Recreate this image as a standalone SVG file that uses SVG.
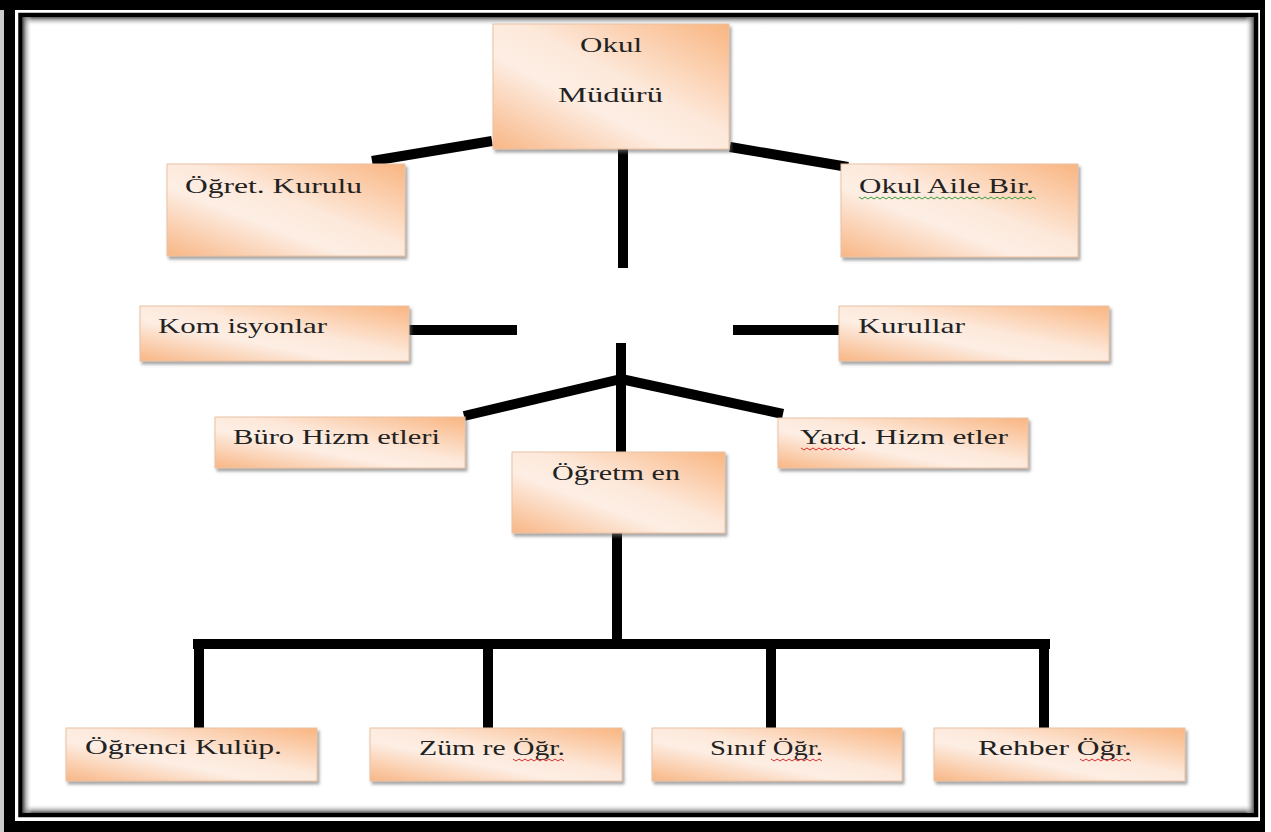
<svg xmlns="http://www.w3.org/2000/svg" width="1271" height="832" viewBox="0 0 1271 832">
  <defs>
    <linearGradient id="peach" x1="1" y1="0" x2="0" y2="1">
      <stop offset="0" stop-color="#f9b581"/>
      <stop offset="0.45" stop-color="#fde9db"/>
      <stop offset="0.62" stop-color="#fdeee4"/>
      <stop offset="1" stop-color="#f8b685"/>
    </linearGradient>
    <filter id="shadow" x="-10%" y="-10%" width="120%" height="130%">
      <feDropShadow dx="2" dy="3" stdDeviation="1.5" flood-color="#6b6b6b" flood-opacity="0.6"/>
    </filter>
    <linearGradient id="shT" x1="0" y1="0" x2="0" y2="1">
      <stop offset="0" stop-color="#555"/><stop offset="1" stop-color="#fff" stop-opacity="0"/>
    </linearGradient>
    <linearGradient id="shB" x1="0" y1="1" x2="0" y2="0">
      <stop offset="0" stop-color="#555"/><stop offset="1" stop-color="#fff" stop-opacity="0"/>
    </linearGradient>
    <linearGradient id="shL" x1="0" y1="0" x2="1" y2="0">
      <stop offset="0" stop-color="#555"/><stop offset="1" stop-color="#fff" stop-opacity="0"/>
    </linearGradient>
    <linearGradient id="shR" x1="1" y1="0" x2="0" y2="0">
      <stop offset="0" stop-color="#555"/><stop offset="1" stop-color="#fff" stop-opacity="0"/>
    </linearGradient>
  </defs>
  <style>
    .box { fill: url(#peach); stroke: #e9c2a4; stroke-width: 1; filter: url(#shadow); }
    .lbl { font-family: "Liberation Serif", "Times New Roman", serif; font-size: 21px; fill: #222; }
    .con { stroke: #000; stroke-width: 10; fill: none; stroke-linecap: butt; }
    .sqr { fill: none; stroke: #d03030; stroke-width: 1; }
    .sqg { fill: none; stroke: #3a9a3a; stroke-width: 1; }
  </style>

  <!-- page frame -->
  <g id="frame">
    <rect x="0" y="0" width="1271" height="832" fill="#fff"/>
    <rect x="0" y="0" width="4" height="832" fill="#ccc"/>
    <rect x="4" y="0" width="11" height="832" fill="#000"/>
    <rect x="0" y="0" width="1265" height="10" fill="#000"/>
    <rect x="1260" y="0" width="5" height="832" fill="#000"/>
    <rect x="4" y="821" width="1261" height="11" fill="#000"/>
    <rect x="20.5" y="15" width="1235.5" height="800" fill="none" stroke="#000" stroke-width="4.5"/>
    <rect x="23" y="17" width="1231" height="9" fill="url(#shT)"/>
    <rect x="23" y="804" width="1231" height="9" fill="url(#shB)"/>
    <rect x="23" y="17" width="9" height="796" fill="url(#shL)"/>
    <rect x="1245" y="17" width="9" height="796" fill="url(#shR)"/>
  </g>

  <!-- connectors -->
  <g id="connectors">
    <line class="con" x1="372" y1="161" x2="492" y2="141"/>
    <line class="con" x1="730" y1="147" x2="848" y2="167"/>
    <line class="con" x1="623" y1="147" x2="623" y2="268"/>
    <line class="con" x1="404" y1="330" x2="517" y2="330"/>
    <line class="con" x1="733" y1="330" x2="846" y2="330"/>
    <line class="con" x1="621" y1="343" x2="621" y2="452"/>
    <line class="con" x1="464" y1="416" x2="621" y2="379"/>
    <line class="con" x1="621" y1="379" x2="783" y2="414"/>
    <line class="con" x1="617" y1="533" x2="617" y2="644"/>
    <line class="con" x1="193" y1="644" x2="1050" y2="644"/>
    <line class="con" x1="199" y1="640" x2="199" y2="728"/>
    <line class="con" x1="488" y1="640" x2="488" y2="728"/>
    <line class="con" x1="771" y1="640" x2="771" y2="728"/>
    <line class="con" x1="1044" y1="640" x2="1044" y2="728"/>
  </g>

  <g id="okul-muduru">
    <rect class="box" x="493" y="24" width="236" height="125"/>
    <text class="lbl" x="580" y="52" textLength="62" lengthAdjust="spacingAndGlyphs">Okul</text>
    <text class="lbl" x="558" y="102" textLength="105" lengthAdjust="spacingAndGlyphs">Müdürü</text>
  </g>

  <g id="ogret-kurulu">
    <rect class="box" x="167" y="164" width="238" height="92"/>
    <text class="lbl" x="185" y="193" textLength="177" lengthAdjust="spacingAndGlyphs">Öğret. Kurulu</text>
  </g>

  <g id="okul-aile-bir">
    <rect class="box" x="841" y="164" width="237" height="93"/>
    <text class="lbl" x="859" y="193" textLength="175" lengthAdjust="spacingAndGlyphs">Okul Aile Bir.</text>
    <path class="sqg" d="M859 197 l3 2 l3 -2 l3 2 l3 -2 l3 2 l3 -2 l3 2 l3 -2 l3 2 l3 -2 l3 2 l3 -2 l3 2 l3 -2 l3 2 l3 -2 l3 2 l3 -2 l3 2 l3 -2 l3 2 l3 -2 l3 2 l3 -2 l3 2 l3 -2 l3 2 l3 -2 l3 2 l3 -2 l3 2 l3 -2 l3 2 l3 -2 l3 2 l3 -2 l3 2 l3 -2 l3 2 l3 -2 l3 2 l3 -2 l3 2 l3 -2 l3 2 l3 -2 l3 2 l3 -2 l3 2 l3 -2 l3 2 l3 -2 l3 2 l3 -2 l3 2 l3 -2 l3 2 l3 -2 l3 2"/>
  </g>

  <g id="komisyonlar">
    <rect class="box" x="140" y="306" width="269" height="55"/>
    <text class="lbl" x="158" y="333" textLength="169" lengthAdjust="spacingAndGlyphs">Kom isyonlar</text>
  </g>

  <g id="kurullar">
    <rect class="box" x="839" y="306" width="270" height="55"/>
    <text class="lbl" x="858" y="333" textLength="107" lengthAdjust="spacingAndGlyphs">Kurullar</text>
  </g>

  <g id="buro-hizmetleri">
    <rect class="box" x="215" y="417" width="250" height="51"/>
    <text class="lbl" x="233" y="444" textLength="207" lengthAdjust="spacingAndGlyphs">Büro Hizm etleri</text>
  </g>

  <g id="yard-hizmetler">
    <rect class="box" x="778" y="418" width="250" height="50"/>
    <text class="lbl" x="800" y="444" textLength="208" lengthAdjust="spacingAndGlyphs">Yard. Hizm etler</text>
    <path class="sqr" d="M801 448 l3 2 l3 -2 l3 2 l3 -2 l3 2 l3 -2 l3 2 l3 -2 l3 2 l3 -2 l3 2 l3 -2 l3 2 l3 -2 l3 2 l3 -2 l3 2 l3 -2"/>
  </g>

  <g id="ogretmen">
    <rect class="box" x="512" y="452" width="213" height="81"/>
    <text class="lbl" x="552" y="480" textLength="128" lengthAdjust="spacingAndGlyphs">Öğretm en</text>
  </g>

  <g id="ogrenci-kulup">
    <rect class="box" x="66" y="728" width="251" height="53"/>
    <text class="lbl" x="85" y="754" textLength="197" lengthAdjust="spacingAndGlyphs">Öğrenci Kulüp.</text>
  </g>

  <g id="zumre-ogr">
    <rect class="box" x="370" y="728" width="252" height="53"/>
    <text class="lbl" x="419" y="755" textLength="146" lengthAdjust="spacingAndGlyphs">Züm re Öğr.</text>
    <path class="sqr" d="M513 759 l3 2 l3 -2 l3 2 l3 -2 l3 2 l3 -2 l3 2 l3 -2 l3 2 l3 -2 l3 2 l3 -2 l3 2 l3 -2 l3 2 l3 -2 l3 2"/>
  </g>

  <g id="sinif-ogr">
    <rect class="box" x="652" y="728" width="250" height="53"/>
    <text class="lbl" x="710" y="755" textLength="113" lengthAdjust="spacingAndGlyphs">Sınıf Öğr.</text>
    <path class="sqr" d="M771 759 l3 2 l3 -2 l3 2 l3 -2 l3 2 l3 -2 l3 2 l3 -2 l3 2 l3 -2 l3 2 l3 -2 l3 2 l3 -2 l3 2 l3 -2 l3 2"/>
  </g>

  <g id="rehber-ogr">
    <rect class="box" x="934" y="728" width="251" height="53"/>
    <text class="lbl" x="978" y="755" textLength="154" lengthAdjust="spacingAndGlyphs">Rehber Öğr.</text>
    <path class="sqr" d="M1080 759 l3 2 l3 -2 l3 2 l3 -2 l3 2 l3 -2 l3 2 l3 -2 l3 2 l3 -2 l3 2 l3 -2 l3 2 l3 -2 l3 2 l3 -2 l3 2"/>
  </g>
</svg>
